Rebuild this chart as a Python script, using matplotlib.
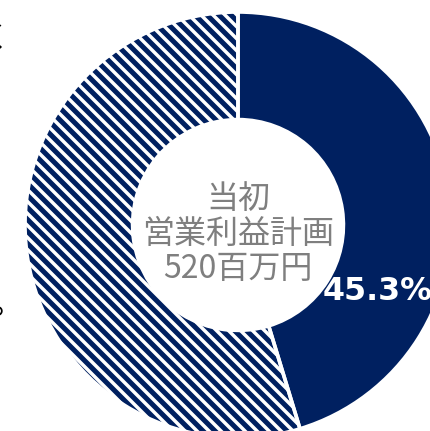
import matplotlib
matplotlib.use("Agg")
import matplotlib.pyplot as plt

# data
labels = ["達成", "残り"]
values = [45.3, 54.7]
center_lines = ["当初", "営業利益計画", "520百万円"]
pct_label = f"{values[0]}%"

NAVY = "#002060"
GRAY = "#7f7f7f"

W, H, DPI = 430, 431, 144
plt.rcParams["hatch.linewidth"] = 2.5
plt.rcParams["hatch.color"] = NAVY

fig = plt.figure(figsize=(W / DPI, H / DPI), dpi=DPI)
ax = fig.add_axes([0, 0, 1, 1])

def P(x, y):
    return x, H - y

cx, cy = P(238, 225)
R = 213
wedges, _ = ax.pie(values, center=(cx, cy), radius=R, startangle=90,
                   counterclock=False, colors=[NAVY, "white"],
                   wedgeprops=dict(width=R * 0.505, linewidth=0, edgecolor=NAVY))
wedges[1].set_hatch("\\\\\\\\")
wedges[1].set_edgecolor(NAVY)
# white separators
ax.pie(values, center=(cx, cy), radius=R, startangle=90, counterclock=False,
       colors=["none", "none"],
       wedgeprops=dict(width=R * 0.505, linewidth=1.8, edgecolor="white", fill=False))

ax.set_xlim(0, W)
ax.set_ylim(0, H)
ax.set_aspect("auto")
ax.axis("off")

ax.text(*P(238, 234), "\n".join(center_lines), ha="center", va="center",
        fontsize=16, color=GRAY, family=["Noto Sans CJK JP", "DejaVu Sans"],
        linespacing=1.12)
ax.text(*P(377, 292), pct_label, ha="center", va="center", fontsize=15.8,
        fontweight="bold", color="white", family="DejaVu Sans")

# cropped fragments of surrounding text
ax.text(*P(10, 39), "く", ha="right", va="center", fontsize=14.5, color="black",
        family="Noto Sans CJK JP")
ax.text(*P(25, 304), "。", ha="right", va="center", fontsize=17, color="black",
        family="Noto Sans CJK JP")

fig.savefig("out.png", dpi=DPI)
